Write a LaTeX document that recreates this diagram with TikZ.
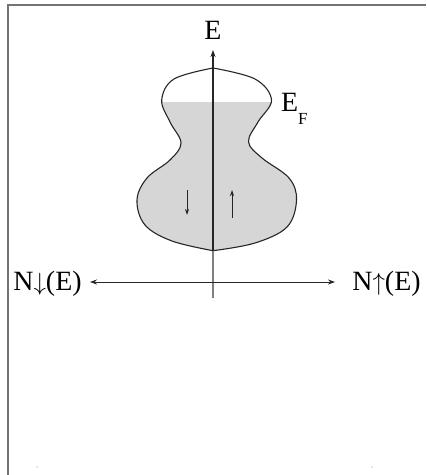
\documentclass[tikz,border=0pt]{standalone}
\usepackage{fontspec}
\setmainfont{Liberation Serif}
\usetikzlibrary{arrows.meta}
\begin{document}
\begin{tikzpicture}[x=1bp,y=-1bp,
 lbl/.style={inner sep=0pt, font=\fontsize{28}{30}\selectfont},
 outline/.style={draw=black!85, line width=1.1bp},
 tip/.style={-{Stealth[length=7bp,width=5bp]}},
 bitip/.style={{Stealth[length=7bp,width=5bp]}-{Stealth[length=7bp,width=5bp]}},
 smalltip/.style={-{Stealth[length=6bp,width=4bp]}, line width=1bp, black!85},
 frame/.style={draw=black!55, line width=2bp}]
\useasboundingbox (0,0) rectangle (426,475);
% frame
\coordinate (fa) at (7.5,475);
\coordinate (fb) at (7.5,5.5);
\coordinate (fc) at (426,5.5);
\draw[frame] (fa) -- (fb) -- (fc);
\fill[black!40] (37,467) circle (0.7) (372,467) circle (0.7);
% band shape
\path[save path=\bulb] plot[smooth, tension=0.6] coordinates {(213,68) (255,79) (271.5,100) (258,122) (248.5,142) (262,158) (289,178) (296.5,200) (287,227) (255,243) (213,250.7)}
 -- plot[smooth, tension=0.6] coordinates {(213,250.7) (172,241) (145,225) (137,200) (147,178) (170,160) (181,143) (170,122) (161.7,100) (174,79) (213,68)} -- cycle;
\begin{scope}
\clip (100,102.3) rectangle (320,260);
\fill[gray!32, use path=\bulb];
\end{scope}
\draw[outline, use path=\bulb];
% E axis
\coordinate (bot) at (213,298);
\coordinate (shb) at (213,250.7);
\coordinate (top) at (213,50);
\node[lbl, anchor=base] (E) at (213,40) {E};
\draw[black!50, line width=1.2bp] (bot) -- (shb);
\draw[line width=1.5bp, black!85, tip] (shb) -- (top);
% EF
\node[lbl, anchor=base west] (EF) at (281,112) {E\raisebox{-13bp}{\fontsize{17}{17}\selectfont F}};
% spin arrows
\coordinate (d1) at (187,190);
\coordinate (d2) at (187,215);
\coordinate (u1) at (232,218);
\coordinate (u2) at (232,190);
\draw[smalltip] (d1) -- (d2);
\draw[smalltip] (u1) -- (u2);
% N axis
\node[lbl, anchor=base] (Nd) at (47.5,290) {N$\downarrow$(E)};
\node[lbl, anchor=base] (Nu) at (386.5,290) {N$\uparrow$(E)};
\coordinate (hl) at (90,282);
\coordinate (hr) at (335,282);
\draw[bitip, line width=1bp, black!85] (hl) -- (hr);
\end{tikzpicture}
\end{document}
